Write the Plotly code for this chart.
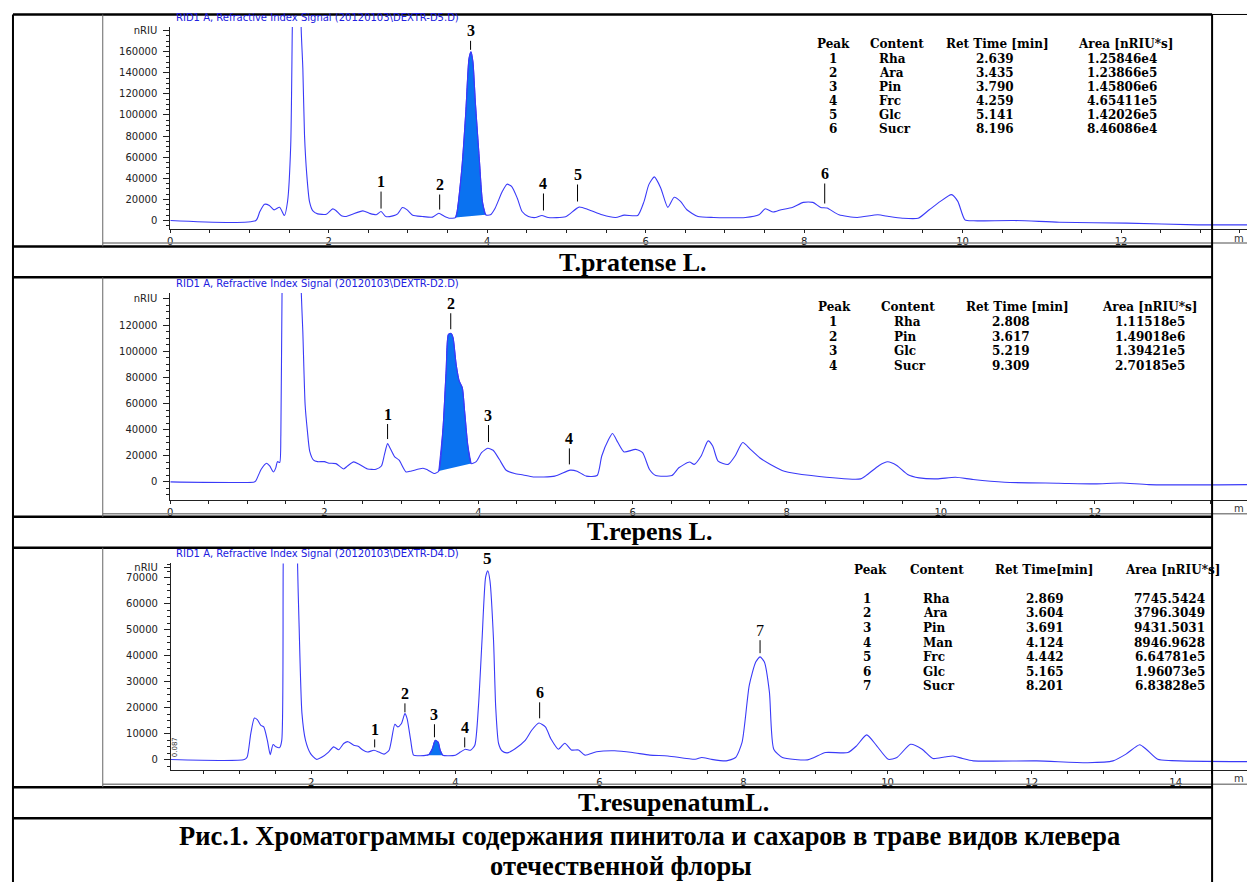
import plotly.graph_objects as go

W, H = 1247, 882

# ------------------------------------------------------------------ data
# T. pratense L. (DEXTR-D5)  time [min], signal [nRIU]
prat_t = [0.00, 1.08, 1.13, 1.19, 1.25, 1.31, 1.38, 1.44, 1.48, 1.52, 1.54, 1.57, 1.60, 1.63,
          1.652, 1.673, 1.694, 1.723, 1.757, 1.80, 1.86, 1.97, 2.05, 2.09, 2.16, 2.22, 2.30,
          2.43, 2.51, 2.60, 2.66, 2.72, 2.81, 2.87, 2.93, 2.99, 3.06, 3.18, 3.31, 3.39, 3.45,
          3.52, 3.60, 3.62, 3.68, 3.73, 3.77, 3.795, 3.82, 3.85, 3.90, 3.94, 3.98, 4.04, 4.10,
          4.19, 4.25, 4.31, 4.38, 4.44, 4.52, 4.61, 4.69, 4.77, 4.99, 5.16, 5.28, 5.45, 5.62,
          5.73, 5.90, 5.98, 6.04, 6.11, 6.19, 6.28, 6.36, 6.44, 6.52, 6.66, 6.86, 7.26, 7.43,
          7.51, 7.61, 7.71, 7.85, 7.99, 8.11, 8.21, 8.29, 8.44, 8.67, 8.93, 9.07, 9.24, 9.44,
          9.58, 9.72, 9.86, 9.94, 10.03, 10.14, 10.65, 11.22, 12.07, 12.97, 13.59]
prat_sig = [0, 0, 8500, 15400, 14200, 10100, 12600, 4700, 18000, 71500, 182000, 330000, 450000, 330000,
            182000, 144000, 81000, 43000, 18000, 9100, 6300, 6000, 11000, 9500, 4400, 3800, 6000,
            9100, 6900, 5400, 8500, 3800, 4400, 6300, 12300, 10100, 5000, 3800, 3200, 6900, 4400,
            2200, 2800, 8500, 49500, 103100, 153500, 159900, 150200, 112400, 58800, 17800, 5400, 5400, 11700,
            27400, 34400, 32200, 21100, 8500, 3800, 2800, 4700, 2800, 3600, 12700, 10200, 5400, 2900,
            5100, 4800, 18100, 34000, 41300, 30900, 12400, 22000, 18100, 10200, 3800, 2900, 2900, 5400,
            11100, 8000, 10200, 12400, 17200, 17200, 12400, 11800, 5400, 2900, 5400, 3800, 2200, 2200,
            10200, 18100, 24500, 18100, 600, -300, 0, -1600, -2500, -4100, -4100]
prat_fill = (3.60, 3.98)
prat_lbl = ["1", "2", "3", "4", "5", "6"]
prat_lbl_t = [2.66, 3.40, 3.79, 4.71, 5.14, 8.26]
prat_lbl_sig = [11300, 10400, 161700, 9500, 18000, 16100]
prat_peak = ["1", "2", "3", "4", "5", "6"]
prat_content = ["Rha", "Ara", "Pin", "Frc", "Glc", "Sucr"]
prat_rt = ["2.639", "3.435", "3.790", "4.259", "5.141", "8.196"]
prat_area = ["1.25846e4", "1.23866e5", "1.45806e6", "4.65411e5", "1.42026e5", "8.46086e4"]
prat_yticks = [0, 20000, 40000, 60000, 80000, 100000, 120000, 140000, 160000, 180000]

# T. repens L. (DEXTR-D2)
rep_t = [0.00, 1.09, 1.11, 1.18, 1.25, 1.29, 1.34, 1.37, 1.39, 1.42, 1.435, 1.45, 1.50, 1.57,
         1.65, 1.70, 1.72, 1.75, 1.78, 1.81, 1.86, 1.91, 2.00, 2.06, 2.15, 2.25, 2.30, 2.38,
         2.45, 2.56, 2.67, 2.74, 2.78, 2.82, 2.85, 2.91, 2.97, 3.06, 3.13, 3.28, 3.34, 3.43,
         3.485, 3.54, 3.58, 3.61, 3.645, 3.67, 3.71, 3.75, 3.79, 3.82, 3.86, 3.905, 3.97, 4.04,
         4.12, 4.19, 4.27, 4.36, 4.47, 4.58, 4.71, 4.99, 5.19, 5.28, 5.40, 5.54, 5.60, 5.69,
         5.74, 5.81, 5.89, 6.04, 6.13, 6.22, 6.30, 6.51, 6.60, 6.74, 6.80, 6.89, 6.98, 7.04,
         7.11, 7.24, 7.33, 7.43, 7.53, 7.65, 7.79, 7.97, 8.32, 8.96, 9.05, 9.20, 9.31, 9.43,
         9.57, 9.72, 9.95, 10.19, 10.42, 10.83, 11.53, 12.00, 12.35, 12.70, 13.98]
rep_sig = [0, 0, 800, 9700, 14300, 12200, 7600, 10900, 15500, 14800, 36000, 143000, 300000, 400000,
           300000, 145000, 115000, 59000, 38700, 23400, 16600, 15500, 15500, 14300, 14000, 9900, 12200, 15300,
           13500, 9900, 9700, 12200, 21100, 29300, 26200, 19400, 16600, 7600, 8400, 10400, 9200, 6400,
           8400, 41500, 84800, 112900, 113600, 110400, 90000, 77200, 72100, 54300, 28800, 14000, 15500, 22400,
           25700, 24200, 17300, 8900, 6400, 5300, 3800, 4400, 9000, 8200, 4400, 4900, 19800, 32600,
           37000, 30100, 22900, 24900, 22400, 9500, 4900, 4900, 10800, 15200, 13400, 19800, 31400, 27500,
           15900, 13400, 19800, 30100, 24900, 18500, 13400, 8200, 4900, 2300, 5700, 12600, 15400, 12600,
           5700, 3100, 2300, 3600, 1800, -300, -1000, -1500, -800, -2100, -2100]
rep_fill = (3.485, 3.905)
rep_lbl = ["1", "2", "3", "4"]
rep_lbl_t = [2.82, 3.64, 4.13, 5.18]
rep_lbl_sig = [32800, 116800, 30500, 13400]
rep_peak = ["1", "2", "3", "4"]
rep_content = ["Rha", "Pin", "Glc", "Sucr"]
rep_rt = ["2.808", "3.617", "5.219", "9.309"]
rep_area = ["1.11518e5", "1.49018e6", "1.39421e5", "2.70185e5"]
rep_yticks = [0, 20000, 40000, 60000, 80000, 100000, 120000, 140000]

# T. resupinatum L. (DEXTR-D4)
res_t = [0.051, 1.07, 1.11, 1.16, 1.21, 1.25, 1.30, 1.34, 1.39, 1.43, 1.47, 1.51, 1.56, 1.59,
         1.61, 1.65, 1.71, 1.77, 1.81, 1.83, 1.87, 1.92, 1.99, 2.07, 2.15, 2.24, 2.31, 2.38,
         2.45, 2.51, 2.59, 2.65, 2.71, 2.78, 2.87, 2.94, 3.01, 3.08, 3.16, 3.20, 3.25, 3.30,
         3.33, 3.38, 3.42, 3.49, 3.607, 3.63, 3.68, 3.72, 3.76, 3.79, 3.824, 4.00, 4.07, 4.14,
         4.21, 4.27, 4.32, 4.37, 4.42, 4.45, 4.48, 4.53, 4.56, 4.60, 4.65, 4.72, 4.83, 4.97,
         5.06, 5.16, 5.25, 5.33, 5.43, 5.52, 5.61, 5.71, 5.80, 5.96, 6.21, 6.46, 6.70, 6.95,
         7.33, 7.42, 7.55, 7.76, 7.89, 7.98, 8.08, 8.17, 8.23, 8.29, 8.36, 8.42, 8.54, 8.89,
         8.98, 9.14, 9.45, 9.57, 9.71, 9.85, 10.01, 10.13, 10.32, 10.48, 10.63, 10.79, 10.91, 11.04,
         11.19, 12.07, 12.78, 13.13, 13.31, 13.50, 13.59, 13.75, 13.94, 14.99]
res_sig = [0, 0, 1000, 10000, 16000, 15400, 13200, 12600, 7400, 1900, 5800, 4900, 4600, 7400,
           75000, 200000, 250000, 200000, 74400, 52500, 17900, 7400, 2300, 100, 1000, 2900, 4900, 3800,
           6200, 6900, 5500, 5100, 3800, 2900, 3600, 2900, 2100, 3600, 13600, 12600, 13800, 17700,
           15800, 7400, 1700, 1500, 1700, 1900, 4200, 7400, 6800, 3600, 1700, 1700, 2900, 4000,
           3600, 5500, 20300, 45900, 70300, 72800, 69000, 46000, 20300, 6200, 3300, 2600, 4200, 7400,
           11300, 14100, 12600, 7800, 4000, 6300, 3700, 3700, 1700, 3000, 3400, 2700, 1700, 1400,
           100, 800, 100, -500, 800, 6600, 28600, 37600, 39600, 37600, 26000, 4000, 800, -100,
           800, 2700, 2700, 5300, 9500, 5300, 100, 800, 5900, 4000, 400, 1000, 1400, 400,
           -500, -500, -1200, -500, 2100, 5700, 4000, 100, -400, -800]
res_fill = (3.607, 3.824)
res_lbl = ["1", "2", "3", "4", "5", "6", "7"]
res_lbl_t = [2.88, 3.30, 3.71, 4.13, 4.45, 5.17, 8.23]
res_lbl_sig = [4700, 18200, 8600, 4700, 72800, 15900, 41000]
res_peak = ["1", "2", "3", "4", "5", "6", "7"]
res_content = ["Rha", "Ara", "Pin", "Man", "Frc", "Glc", "Sucr"]
res_rt = ["2.869", "3.604", "3.691", "4.124", "4.442", "5.165", "8.201"]
res_area = ["7745.5424", "3796.3049", "9431.5031", "8946.9628", "6.64781e5", "1.96073e5", "6.83828e5"]
res_yticks = [0, 10000, 20000, 30000, 40000, 50000, 60000, 70000, 74000]

# ------------------------------------------------------------------ style
TRACE = "#3a3af8"
FILL = "#0a72f0"
TITLE_BLUE = "#2020e0"
SERIF = "Liberation Serif, Times New Roman, serif"
TSERIF = "DejaVu Serif, serif"
SANS = "DejaVu Sans, Arial, sans-serif"
TFS = 12  # table font size

fig = go.Figure()
ann = []
shp = []


def fx(px):
    return px / W


def fy(py):
    return 1 - py / H


def txt(px, py, s, size, family=SERIF, color="#000", xanchor="center", angle=0):
    ann.append(dict(xref="paper", yref="paper", x=fx(px), y=fy(py), text=s, showarrow=False,
                    xanchor=xanchor, yanchor="middle", textangle=angle, borderpad=0,
                    font=dict(size=size, family=family, color=color)))


def hline(py, x0, x1, w=2.5, color="#000"):
    shp.append(dict(type="line", xref="paper", yref="paper", x0=fx(x0), x1=fx(x1),
                    y0=fy(py), y1=fy(py), line=dict(color=color, width=w), layer="above"))


def vline(px, y0, y1, w=2, color="#000"):
    shp.append(dict(type="line", xref="paper", yref="paper", x0=fx(px), x1=fx(px),
                    y0=fy(y0), y1=fy(y1), line=dict(color=color, width=w), layer="above"))


panels = [
    dict(name="D5", t=prat_t, s=prat_sig, fill=prat_fill, lbl=prat_lbl, lt=prat_lbl_t, ls=prat_lbl_sig,
         loff=[27, 25, 19, 27, 27, 30], yt=prat_yticks, ymin=5000,
         xdom=(167.7, 1247), ydom=(228, 25), xr=[0, 13.59], yr=[-8510, 183400],
         title_y=16, tbl=dict(peak=prat_peak, content=prat_content, rt=prat_rt, area=prat_area,
                              hy=42.5, y0=56.8, dy=14.1, hx=[833, 896, 997, 1125],
                              vx=[832, 877, 994, 1122], rth="Ret Time [min]"),
         unit_y=237),
    dict(name="D2", t=rep_t, s=rep_sig, fill=rep_fill, lbl=rep_lbl, lt=rep_lbl_t, ls=rep_lbl_sig,
         loff=[25, 26, 27, 26], yt=rep_yticks, ymin=5000,
         xdom=(167.7, 1247), ydom=(499, 291.7), xr=[0, 13.975], yr=[-13740, 144500],
         title_y=282, tbl=dict(peak=rep_peak, content=rep_content, rt=rep_rt, area=rep_area,
                               hy=306, y0=320.5, dy=14.8, hx=[834, 907, 1017, 1149],
                               vx=[832, 892, 1010, 1150], rth="Ret Time [min]"),
         unit_y=508),
    dict(name="D4", t=res_t, s=res_sig, fill=res_fill, lbl=res_lbl, lt=res_lbl_t, ls=res_lbl_sig,
         loff=[18, 19, 23, 20, 0, 26, 23], yt=res_yticks, ymin=2500,
         xdom=(168.3, 1247), ydom=(769.3, 562.7), xr=[0.051, 14.99], yr=[-3846, 75600],
         title_y=553, tbl=dict(peak=res_peak, content=res_content, rt=res_rt, area=res_area,
                               hy=569.6, y0=598, dy=14.67, hx=[870, 936, 1044, 1172],
                               vx=[866, 921, 1045, 1206], rth="Ret Time[min]"),
         unit_y=778),
]

layout_axes = {}
for i, p in enumerate(panels):
    k = "" if i == 0 else str(i + 1)
    xa, ya = "x" + k, "y" + k
    t, s = p["t"], p["s"]
    # shaded (integrated) peak: trace points inside the window, closed by straight baseline
    f0, f1 = p["fill"]
    ft = [tt for tt in t if f0 <= tt <= f1]
    fs = [ss for tt, ss in zip(t, s) if f0 <= tt <= f1]
    fig.add_trace(go.Scatter(x=ft, y=fs, mode="lines", fill="toself", fillcolor=FILL,
                             line=dict(color=TRACE, width=1, shape="spline", smoothing=0.6),
                             xaxis=xa, yaxis=ya, hoverinfo="skip", showlegend=False))
    fig.add_trace(go.Scatter(x=t, y=s, mode="lines",
                             line=dict(color=TRACE, width=1.1, shape="spline", smoothing=0.6),
                             xaxis=xa, yaxis=ya, showlegend=False))

    tickvals = p["yt"]
    ticktext = [str(v) for v in tickvals[:-1]] + ["nRIU"]
    axfont = dict(family=SANS, size=10, color="#222")
    layout_axes["xaxis" + k] = dict(
        domain=[fx(p["xdom"][0]), 1.0], range=p["xr"], anchor=ya,
        showline=True, linecolor="#222", linewidth=1, showgrid=False, zeroline=False,
        ticks="outside", ticklen=3, tickcolor="#222", dtick=2, tick0=0, tickfont=axfont,
        minor=dict(ticks="outside", ticklen=3, dtick=0.5, tick0=0, tickcolor="#222"))
    layout_axes["yaxis" + k] = dict(
        domain=[fy(p["ydom"][0]), fy(p["ydom"][1])], range=p["yr"], anchor=xa,
        showline=True, linecolor="#222", linewidth=1, showgrid=False, zeroline=False,
        ticks="outside", ticklen=6, tickcolor="#222", tickmode="array", ticklabelstandoff=4,
        tickvals=tickvals, ticktext=ticktext, tickfont=axfont,
        minor=dict(ticks="outside", ticklen=3, tickmode="linear", tick0=0, dtick=p["ymin"],
                   tickcolor="#222"))

    # peak number labels with short ticks
    for j, (lab, lt, ls) in enumerate(zip(p["lbl"], p["lt"], p["ls"])):
        off = p["loff"][j]
        bold = not (p["name"] == "D4" and lab == "7")
        label = "<b>%s</b>" % lab if bold else lab
        if off > 0:
            ann.append(dict(xref=xa, yref=ya, x=lt, y=ls, text=label, showarrow=True,
                            arrowhead=0, arrowwidth=1, arrowcolor="#000", ax=0, ay=-off,
                            font=dict(family=SERIF, size=16, color="#000")))
        else:
            ann.append(dict(xref=xa, yref=ya, x=lt, y=ls, text=label, showarrow=False,
                            yshift=12, font=dict(family=SERIF, size=17, color="#000")))

    # instrument signal title
    txt(172, p["title_y"], "RID1 A, Refractive Index Signal (20120103\\DEXTR-%s.D)" % p["name"],
        10, SANS, TITLE_BLUE, xanchor="left")
    # truncated axis unit ("min", only its first letter fits)
    txt(1245, p["unit_y"], "m", 10, SANS, "#333", xanchor="right")

    # peak table
    tb = p["tbl"]
    heads = ["Peak", "Content", tb["rth"], "Area [nRIU*s]"]
    for hx, h in zip(tb["hx"], heads):
        txt(hx, tb["hy"], "<b>%s</b>" % h, TFS, TSERIF)
    for r in range(len(tb["peak"])):
        yy = tb["y0"] + r * tb["dy"]
        txt(tb["vx"][0], yy, "<b>%s</b>" % tb["peak"][r], TFS, TSERIF)
        txt(tb["vx"][1], yy, "<b>%s</b>" % tb["content"][r], TFS, TSERIF, xanchor="left")
        txt(tb["vx"][2], yy, "<b>%s</b>" % tb["rt"][r], TFS, TSERIF)
        txt(tb["vx"][3], yy, "<b>%s</b>" % tb["area"][r], TFS, TSERIF,
            xanchor="right" if p["name"] == "D4" else "center")

# small rotated integration-event marker in the bottom chromatogram
ann.append(dict(xref="x3", yref="y3", x=0.12, y=4700, text="0.087", showarrow=False,
                textangle=-90, font=dict(family=SANS, size=7, color="#333")))

# ------------------------------------------------------------------ frame / table lines
for py in (12.5, 245, 276, 516, 547, 787, 818):
    hline(py, 10, 1212)
hline(12.5, 1212, 1247, w=1)
hline(241.5, 100, 1247, w=1.5, color="#888")
hline(513, 100, 1247, w=1.5, color="#888")
hline(784, 100, 1247, w=1.5, color="#888")
vline(10, 12.5, 882)
vline(1212, 12.5, 882)
for y0, y1 in ((12.5, 245), (276, 516), (547, 787)):
    vline(100, y0, y1, w=1, color="#666")

# section labels and caption
txt(632, 261, "<b>T.pratense L.</b>", 26)
txt(648, 531, "<b>T.repens L.</b>", 26)
txt(672, 802, "<b>T.resupenatumL.</b>", 26)
txt(648, 836, "<b>Рис.1. Хроматограммы содержания пинитола и сахаров в траве видов клевера</b>", 26.5)
txt(619, 866, "<b>отечественной флоры</b>", 26.5)

fig.update_layout(
    width=W, height=H, margin=dict(l=0, r=0, t=0, b=0),
    paper_bgcolor="white", plot_bgcolor="white", showlegend=False,
    annotations=ann, shapes=shp, **layout_axes)

fig.write_html("out.html", config={"displayModeBar": False},
               post_script="document.body.style.margin='0';document.body.style.overflow='hidden';")
